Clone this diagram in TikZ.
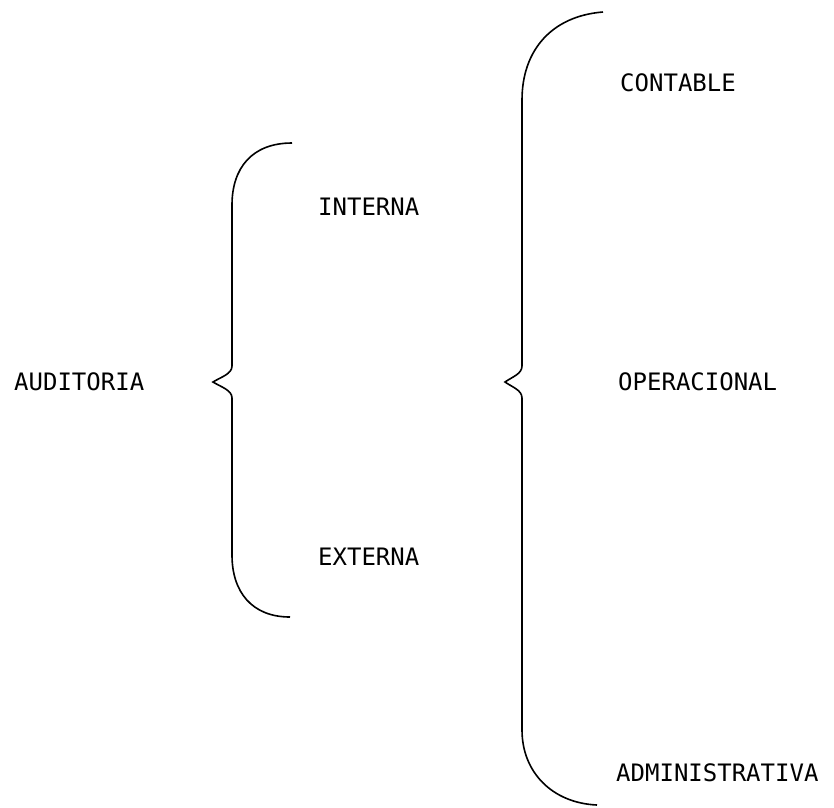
\documentclass[tikz,border=0pt]{standalone}
\usepackage{fontspec}
\newfontfamily\typefont{DejaVu Sans Mono}
\tikzset{
  label/.style={anchor=west, inner sep=0pt, font=\typefont\fontsize{24}{28}\selectfont},
  bracket/.style={black, line width=1.6pt}
}
\begin{document}
\begin{tikzpicture}[x=1pt, y=-1pt]
            \useasboundingbox (0,0) rectangle (834,807);

            % Draw the labels
            \node[label] (auditoria) at (14,382) {AUDITORIA};
            \node[label] (interna) at (318,207) {INTERNA};
            \node[label] (externa) at (318,557) {EXTERNA};
            \node[label] (contable) at (620,83) {CONTABLE};
            \node[label] (operacional) at (618,382) {OPERACIONAL};
            \node[label] (administrativa) at (616,773) {ADMINISTRATIVA};

            % Draw the small brace
            \draw[bracket] (292,143) .. controls (252,143) and (232,168) .. (232,205) -- (232,366)
              .. controls (232,374) and (221,377) .. (213,382)
              .. controls (221,387) and (232,390) .. (232,398) -- (232,555)
              .. controls (232,592) and (252,617) .. (290,617);

            % Draw the large brace
            \draw[bracket] (603,12) .. controls (552,16) and (522,50) .. (522,100) -- (522,366)
              .. controls (522,374) and (512,377) .. (505,382)
              .. controls (512,387) and (522,390) .. (522,398) -- (522,730)
              .. controls (522,772) and (552,803) .. (597,805);

        \end{tikzpicture}
\end{document}
